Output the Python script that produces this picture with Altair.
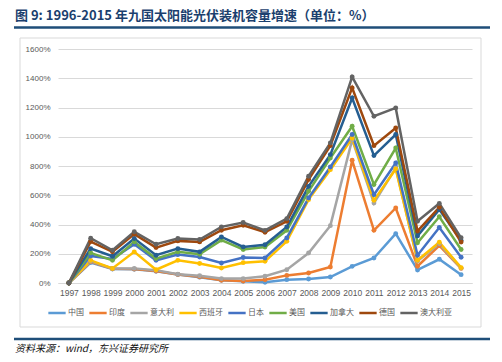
import altair as alt
import pandas as pd

years = [str(y) for y in range(1997, 2016)]
countries = ["中国", "印度", "意大利", "西班牙", "日本", "美国", "加拿大", "德国", "澳大利亚"]
colors = ["#5B9BD5", "#ED7D31", "#A5A5A5", "#FFC000", "#4472C4", "#70AD47", "#255E91", "#9E480E", "#636363"]

china     = [0, 140, 95, 94, 80, 58, 40, 18, 12, 5, 23, 27, 41, 114, 171, 337, 89, 162, 57]
india     = [0, 145, 97, 95, 82, 58, 42, 18, 14, 23, 52, 68, 109, 839, 360, 513, 115, 256, 100]
italy     = [0, 148, 100, 100, 88, 60, 50, 30, 30, 46, 91, 205, 392, 980, 547, 787, 150, 268, 102]
spain     = [0, 155, 100, 213, 91, 155, 133, 103, 139, 148, 285, 570, 775, 990, 565, 780, 155, 279, 105]
japan     = [0, 185, 165, 265, 155, 194, 178, 137, 174, 171, 308, 581, 793, 1015, 604, 821, 190, 379, 176]
usa       = [0, 206, 155, 281, 167, 213, 197, 293, 229, 246, 360, 627, 855, 1072, 673, 923, 275, 453, 229]
canada    = [0, 235, 183, 304, 190, 235, 213, 315, 247, 262, 383, 661, 878, 1265, 871, 1015, 322, 503, 290]
germany   = [0, 283, 213, 334, 242, 288, 281, 361, 395, 347, 422, 707, 939, 1334, 939, 1060, 355, 517, 280]
australia = [0, 306, 224, 350, 265, 304, 297, 384, 414, 360, 440, 730, 958, 1409, 1140, 1197, 422, 544, 309]

series = [china, india, italy, spain, japan, usa, canada, germany, australia]

title_text = "图 9: 1996-2015 年九国太阳能光伏装机容量增速（单位：%）"
source_text = "资料来源：wind，东兴证券研究所"

rows = []
for c, vals in zip(countries, series):
    for y, v in zip(years, vals):
        rows.append({"year": y, "country": c, "value": v})
df = pd.DataFrame(rows)

one = pd.DataFrame({"a": [0]})

W, H = 414, 234

lines = alt.Chart(df).mark_line(
    strokeWidth=2.5,
    point=alt.OverlayMarkDef(filled=True, size=24),
).encode(
    x=alt.X("year:O", sort=years,
            scale=alt.Scale(type="point", padding=0.5),
            axis=alt.Axis(title=None, labelAngle=0, ticks=False, domain=True,
                          domainColor="#D9D9D9", labelFontSize=8.5,
                          labelColor="#595959", labelPadding=5,
                          labelFont="Liberation Sans")),
    y=alt.Y("value:Q", scale=alt.Scale(domain=[0, 1600], nice=False),
            axis=alt.Axis(title=None, values=list(range(0, 1601, 200)),
                          labelExpr="datum.value + '%'", ticks=False, domain=False,
                          gridColor="#D9D9D9", gridWidth=1, labelFontSize=8,
                          labelColor="#595959", labelPadding=8,
                          labelFont="Liberation Sans")),
    color=alt.Color("country:N", sort=countries,
                    scale=alt.Scale(domain=countries, range=colors),
                    legend=alt.Legend(title=None, orient="none", direction="horizontal",
                                      legendX=-11, legendY=254, columns=9,
                                      gridAlign="each",
                                      symbolType="stroke", symbolSize=300,
                                      symbolStrokeWidth=2.5, symbolOffset=0,
                                      labelFontSize=8,
                                      labelFont="Noto Sans CJK SC",
                                      labelColor="#595959", columnPadding=0,
                                      labelOffset=1, labelLimit=60)),
)

box = alt.Chart(one).mark_rect(fill=None, stroke="#D9D9D9", strokeWidth=1).encode(
    x=alt.value(-38), x2=alt.value(423), y=alt.value(-11), y2=alt.value(278))

rule_top = alt.Chart(one).mark_rule(color="#1F4E79", strokeWidth=2.5).encode(
    x=alt.value(-44), x2=alt.value(432), y=alt.value(-21.5))
rule_bot = alt.Chart(one).mark_rule(color="#1F4E79", strokeWidth=2.5).encode(
    x=alt.value(-44), x2=alt.value(432), y=alt.value(290))

title = alt.Chart(one).mark_text(
    text=title_text, align="left", baseline="alphabetic", font="Noto Sans CJK SC",
    fontSize=13, fontWeight="bold", color="#1B3F6E").encode(
    x=alt.value(-43), y=alt.value(-29))

source = alt.Chart(one).mark_text(
    text=source_text, align="left", baseline="middle", font="Noto Sans CJK SC",
    fontSize=10, fontStyle="italic", color="#111111").encode(
    x=alt.value(-43), y=alt.value(299.5))

chart = alt.layer(box, rule_top, rule_bot, title, source, lines).properties(
    width=W, height=H,
    padding={"left": 50, "top": 41, "right": 22, "bottom": 71},
    autosize=alt.AutoSizeParams(type="none"),
).configure_view(stroke=None)

chart.save("out.html", embed_options={"renderer": "svg", "actions": False})
